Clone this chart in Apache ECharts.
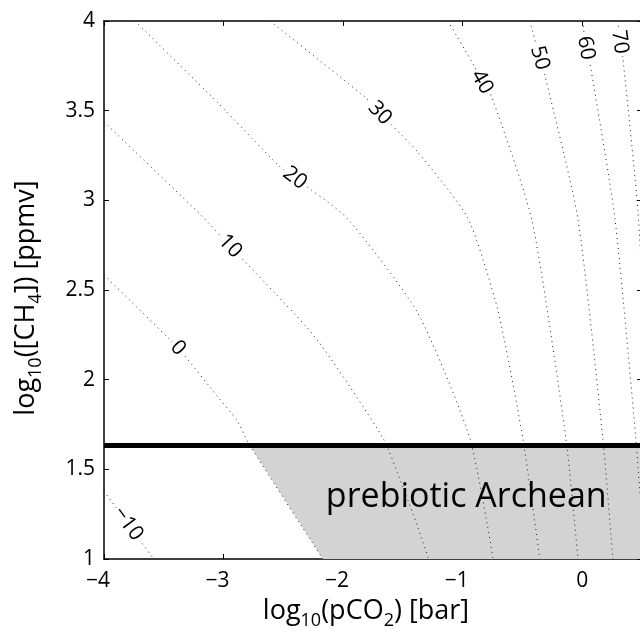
<!DOCTYPE html>
<html><head><meta charset="utf-8">
<script src="https://cdn.jsdelivr.net/npm/echarts@6/dist/echarts.min.js"></script>
<style>html,body{margin:0;padding:0;background:#fff}#c{width:640px;height:635px}</style>
</head><body><div id="c"></div>
<script>
// ---- data ----
const xRange = [-4, 0.5];
const yRange = [1, 4];
const xStep = 1;
const yStep = 0.5;
const contourLevels = [-10, 0, 10, 20, 30, 40, 50, 60, 70];
const contourM10 = [[-4.00,1.379],[-3.80,1.196],[-3.584,1.0]];
const contour0   = [[-4.00,2.583],[-3.381,2.176],[-3.047,1.903],[-2.890,1.775],[-2.780,1.633],[-2.169,1.0]];
const contour10  = [[-4.00,3.437],[-3.181,2.912],[-2.946,2.745],[-2.236,2.238],[-1.667,1.674],[-1.500,1.401],[-1.375,1.178],[-1.285,1.0]];
const contour20  = [[-3.741,4.0],[-3.047,3.543],[-2.528,3.186],[-2.403,3.124],[-1.968,2.901],[-1.375,2.371],[-0.940,1.674],[-0.745,1.0]];
const contour30  = [[-2.612,4.0],[-1.818,3.576],[-1.692,3.487],[-1.375,3.269],[-0.957,2.901],[-0.706,2.388],[-0.497,1.674],[-0.355,1.0]];
const contour40  = [[-1.124,4.0],[-0.898,3.743],[-0.839,3.660],[-0.756,3.576],[-0.421,2.890],[-0.137,1.674],[-0.035,1.0]];
const contour50  = [[-0.438,4.0],[-0.355,3.794],[-0.313,3.699],[-0.037,2.901],[0.172,1.674],[0.256,1.0]];
const contour60  = [[0.005,4.0],[0.030,3.849],[0.064,3.766],[0.273,2.901],[0.448,1.674],[0.523,1.0]];
const contour70  = [[0.298,4.0],[0.314,3.883],[0.339,3.799],[0.465,2.946],[0.565,1.775]];
const contourLabelIndex = [1, 1, 2, 3, 2, 2, 1, 1, 1];
const archeanCH4 = 1.633;   // thick horizontal line (log10 ppmv)
const regionLabel = 'prebiotic Archean';
const regionLabelAt = [-0.97, 1.345];

// ---- build ----
const contours = [contourM10, contour0, contour10, contour20, contour30, contour40, contour50, contour60, contour70];
const FONT = "'Open Sans', 'Noto Sans', sans-serif";
const regionPoly = [contour0[4], contour0[5], [xRange[1], yRange[0]], [xRange[1], archeanCH4]];

function titleRich() {
  return {
    t: {fontSize: 27, fontFamily: FONT, color: '#000', verticalAlign: 'top', lineHeight: 31},
    s: {fontSize: 18, fontFamily: FONT, color: '#000', verticalAlign: 'top', lineHeight: 31, padding: [14, 0, 0, 0]}
  };
}

const series = [];
series.push({
  type: 'custom', z: 1, silent: true,
  data: [[0, 0]],
  renderItem: (params, api) => ({
    type: 'polygon',
    shape: {points: regionPoly.map(p => api.coord(p))},
    style: {fill: '#d3d3d3'}
  })
});
contours.forEach((c, i) => {
  series.push({
    type: 'line', z: 2, silent: true, showSymbol: false, smooth: 0.2,
    data: c,
    lineStyle: {color: '#222', width: 1, type: [1, 4]}
  });
});
series.push({
  type: 'line', z: 3, silent: true, showSymbol: false,
  data: [[xRange[0], archeanCH4], [xRange[1], archeanCH4]],
  lineStyle: {color: '#000', width: 5}
});
series.push({
  type: 'custom', z: 4, silent: true,
  data: contourLevels.map((l, i) => [contours[i][contourLabelIndex[i]][0], contours[i][contourLabelIndex[i]][1], i]),
  encode: {x: 0, y: 1},
  renderItem: (params, api) => {
    const i = api.value(2);
    const c = contours[i], k = contourLabelIndex[i];
    const p = api.coord(c[k]);
    const a = api.coord(c[k - 1]), b = api.coord(c[k + 1]);
    const ang = Math.atan2(b[1] - a[1], b[0] - a[0]);
    const lv = contourLevels[i];
    return {
      type: 'text', x: p[0], y: p[1], rotation: -ang,
      style: {
        text: lv < 0 ? '\u2212' + Math.abs(lv) : String(lv),
        fontSize: 21, fontFamily: FONT, fill: '#000',
        align: 'center', verticalAlign: 'middle',
        backgroundColor: '#fff', padding: [0, 2]
      }
    };
  }
});
series.push({
  type: 'custom', z: 5, silent: true,
  data: [regionLabelAt],
  encode: {x: 0, y: 1},
  renderItem: (params, api) => {
    const p = api.coord([api.value(0), api.value(1)]);
    return {
      type: 'text', x: p[0], y: p[1],
      style: {text: regionLabel, fontSize: 34, fontFamily: FONT, fill: '#000', align: 'center', verticalAlign: 'middle'}
    };
  }
});

const axisLineStyle = {onZero: false, lineStyle: {color: '#000', width: 1.5}};
const tickStyle = {inside: true, length: 5, lineStyle: {color: '#000', width: 1}};

const option = {
  animation: false,
  backgroundColor: '#fff',
  grid: {left: 104, top: 21, width: 538, height: 538, containLabel: false, outerBoundsMode: 'none'},
  xAxis: [{
    type: 'value', min: xRange[0], max: xRange[1], interval: xStep, position: 'bottom',
    axisLine: axisLineStyle, axisTick: tickStyle, splitLine: {show: false},
    axisLabel: {
      margin: 12, color: '#000', fontSize: 21, fontFamily: FONT, showMaxLabel: false,
      formatter: v => v < 0 ? '{a|\u2212' + Math.abs(v) + '}{p|}' : String(v),
      rich: {a: {fontSize: 21, fontFamily: FONT, color: '#000'}, p: {width: 12}}
    },
    name: '{t|log}{s|10}{t|(pCO}{s|2}{t|) [bar]}',
    nameLocation: 'middle', nameGap: 39,
    nameTextStyle: {rich: titleRich(), padding: [0, 14, 0, 0]}
  }, {
    type: 'value', min: xRange[0], max: xRange[1], interval: xStep, position: 'top',
    axisLine: axisLineStyle, axisTick: tickStyle, axisLabel: {show: false}, splitLine: {show: false}
  }],
  yAxis: [{
    type: 'value', min: yRange[0], max: yRange[1], interval: yStep, position: 'left',
    axisLine: axisLineStyle, axisTick: tickStyle, splitLine: {show: false},
    axisLabel: {margin: 9, color: '#000', fontSize: 21, fontFamily: FONT, formatter: v => String(v)},
    name: '{t|log}{s|10}{t|([CH}{s|4}{t|]) [ppmv]}',
    nameLocation: 'middle', nameGap: 60,
    nameTextStyle: {rich: titleRich(), padding: [0, 16, 0, 0]}
  }, {
    type: 'value', min: yRange[0], max: yRange[1], interval: yStep, position: 'right',
    axisLine: axisLineStyle, axisTick: tickStyle, axisLabel: {show: false}, splitLine: {show: false}
  }],
  series: series
};
const chart = echarts.init(document.getElementById('c'), null, {renderer: 'canvas'});
chart.setOption(option);
</script>
</body></html>
